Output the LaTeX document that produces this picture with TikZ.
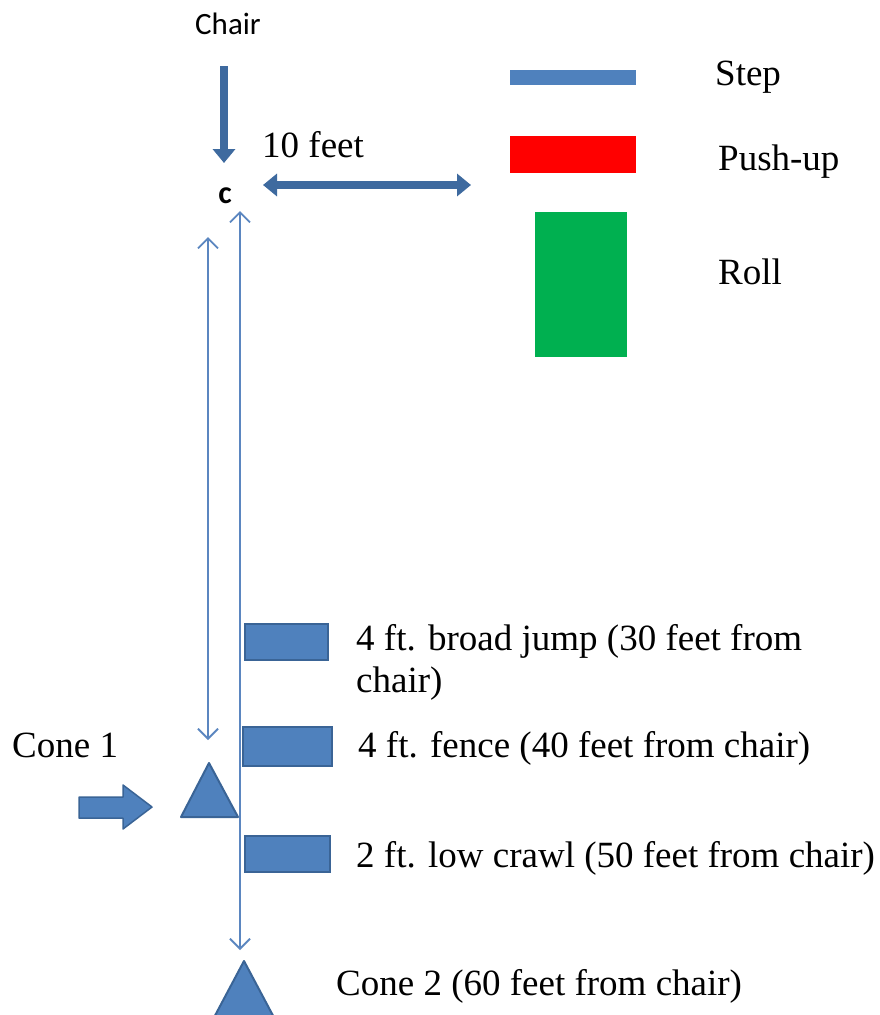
\documentclass[tikz,border=0pt]{standalone}
\usepackage{fontspec}
\setmainfont{Liberation Serif}
\newfontfamily\calib{Carlito}
\usetikzlibrary{arrows.meta}
\definecolor{barblue}{HTML}{4F81BD}
\definecolor{baredge}{HTML}{3A6496}
\definecolor{thickblue}{HTML}{3E6A9F}
\definecolor{lineblue}{HTML}{5B86C0}
\definecolor{pushred}{HTML}{FF0000}
\definecolor{rollgreen}{HTML}{00B050}
\begin{document}
\begin{tikzpicture}[x=1pt,y=-1pt,
  lbl/.style={font=\fontsize{37}{42}\selectfont, anchor=base west, inner sep=0pt},
  sanslbl/.style={font=\calib\fontsize{31}{36}\selectfont, anchor=base, inner sep=0pt},
  barshape/.style={fill=barblue, draw=baredge, line width=1.5pt},
  thinarrow/.style={draw=lineblue, line width=1.8pt, {Straight Barb[length=10pt,width=20pt]}-{Straight Barb[length=10pt,width=20pt]}},
  thickarrow/.style={draw=thickblue, line width=8pt},
  conefill/.style={fill=barblue, draw=baredge, line width=2pt, line join=round}]
\useasboundingbox (0,0) rectangle (879,1015);
\fill[white] (0,0) rectangle (879,1015);

% top: chair and C
\node[sanslbl] (chair) at (228,34) {Chair};
\node[font=\calib\bfseries\fontsize{32}{36}\selectfont, anchor=base, inner sep=0pt] (c) at (225,203) {c};
\coordinate (downstart) at (224,66);
\coordinate (downend) at (224,163);
\draw[thickarrow, -{Triangle[length=14pt,width=22pt]}] (downstart) -- (downend);

% 10 feet
\node[lbl] (tenfeet) at (262,157) {10 feet};
\coordinate (tl) at (263,185);
\coordinate (tr) at (471,185);
\draw[thickarrow, {Triangle[length=14pt,width=22pt]}-{Triangle[length=14pt,width=22pt]}] (tl) -- (tr);

% legend
\fill[barblue] (510,70) rectangle (636,85);
\node[lbl] (step) at (715,85) {Step};
\fill[pushred] (510,136) rectangle (636,173);
\node[lbl] (pushup) at (718,170) {Push-up};
\fill[rollgreen] (535,212) rectangle (627,357);
\node[lbl] (roll) at (718,284) {Roll};

% thin arrows
\coordinate (la) at (208,237);
\coordinate (lb) at (208,740);
\draw[thinarrow] (la) -- (lb);
\coordinate (ra) at (240,211);
\coordinate (rb) at (240,950);
\draw[thinarrow] (ra) -- (rb);

% bars
\draw[barshape] (245,624) rectangle (328,660);
\node[lbl] (jump) at (356,650) {4 ft. broad jump (30 feet from};
\node[lbl] (jump2) at (356,692) {chair)};
\draw[barshape] (243,727) rectangle (332,766);
\node[lbl] (fence) at (358,757) {4 ft. fence (40 feet from chair)};
\draw[barshape] (245,836) rectangle (330,872);
\node[lbl] (crawl) at (356,867) {2 ft. low crawl (50 feet from chair)};

% cone 1
\node[lbl] (cone1) at (12,757) {Cone 1};
\draw[conefill] (209,763) -- (238,817) -- (181,817) -- cycle;
\draw[fill=barblue, draw=baredge, line width=1.5pt, line join=round]
  (79,797) -- (123,797) -- (123,785) -- (152,807) -- (123,829) -- (123,818) -- (79,818) -- cycle;

% cone 2
\draw[conefill] (244,961) -- (278,1025) -- (210,1025) -- cycle;
\node[lbl] (cone2) at (336,995) {Cone 2 (60 feet from chair)};
\end{tikzpicture}
\end{document}
